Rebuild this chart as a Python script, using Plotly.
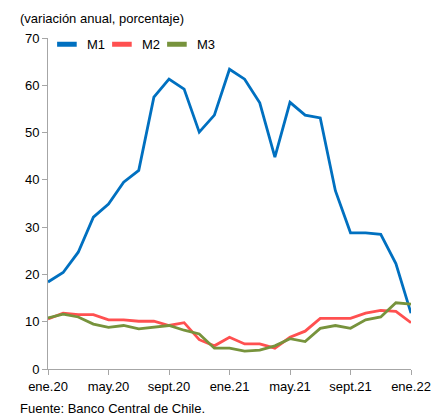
import plotly.graph_objects as go

months = ["ene.20", "feb.20", "mar.20", "abr.20", "may.20", "jun.20", "jul.20", "ago.20",
          "sept.20", "oct.20", "nov.20", "dic.20", "ene.21", "feb.21", "mar.21", "abr.21",
          "may.21", "jun.21", "jul.21", "ago.21", "sept.21", "oct.21", "nov.21", "dic.21",
          "ene.22"]

m1 = [18.4, 20.4, 24.7, 32.1, 34.9, 39.5, 42.0, 57.5, 61.3, 59.2, 50.1, 53.7, 63.4,
      61.3, 56.3, 44.8, 56.4, 53.7, 53.1, 37.7, 28.8, 28.8, 28.5, 22.3, 11.8]
m2 = [10.6, 11.8, 11.5, 11.5, 10.4, 10.4, 10.1, 10.1, 9.2, 9.8, 6.2, 4.9, 6.7,
      5.3, 5.3, 4.4, 6.7, 8.0, 10.7, 10.7, 10.7, 11.8, 12.4, 12.2, 9.8]
m3 = [10.8, 11.6, 11.0, 9.5, 8.8, 9.2, 8.5, 8.9, 9.2, 8.2, 7.4, 4.4, 4.4,
      3.8, 4.0, 4.9, 6.4, 5.8, 8.6, 9.2, 8.6, 10.4, 11.0, 14.0, 13.7]

tick_labels = ["ene.20", "may.20", "sept.20", "ene.21", "may.21", "sept.21", "ene.22"]
yticks = [0, 10, 20, 30, 40, 50, 60, 70]

names = ["M1", "M2", "M3"]
series = [m1, m2, m3]
colors = ["#0070C0", "#FF5050", "#77933C"]

FONT = "Liberation Sans, Arial, sans-serif"

fig = go.Figure()
for name, vals, col in zip(names, series, colors):
    fig.add_trace(go.Scatter(x=months, y=vals, mode="lines", name=name,
                             line=dict(color=col, width=2.8), showlegend=False))
# legend entries (rectangular swatches)
for name, col in zip(names, colors):
    fig.add_trace(go.Scatter(x=[None], y=[None], mode="markers", name=name,
                             marker=dict(symbol="line-ew", size=14,
                                         line=dict(color=col, width=5)),
                             showlegend=True))
# invisible spacer entry so the last legend label is not clipped
fig.add_trace(go.Scatter(x=[None], y=[None], mode="markers", name=" ",
                         marker=dict(opacity=0, color="white"), showlegend=True,
                         hoverinfo="skip"))

fig.update_layout(
    width=438, height=407,
    margin=dict(l=40, r=35, t=30, b=46, autoexpand=False),
    paper_bgcolor="white", plot_bgcolor="white",
    font=dict(family=FONT, size=13, color="#000000"),
    showlegend=True,
    legend=dict(orientation="h", x=-0.003, xanchor="left", y=0.981, yanchor="middle",
                bgcolor="rgba(0,0,0,0)", font=dict(size=13), tracegroupgap=0,
                itemwidth=30, entrywidth=10),
    xaxis=dict(type="category", range=[0, 24], tickvals=tick_labels, ticktext=tick_labels,
               showgrid=False, zeroline=False, showline=True, linecolor="#A6A6A6",
               linewidth=1, ticks="outside", ticklen=5, tickcolor="#A6A6A6",
               tickfont=dict(size=13)),
    yaxis=dict(range=[0, 70], tickvals=yticks, showgrid=False, zeroline=False,
               showline=True, linecolor="#A6A6A6", linewidth=1, ticks="outside",
               ticklen=5, tickcolor="#A6A6A6", tickfont=dict(size=13)),
    annotations=[
        dict(text="<b>Gráfico II.12 Agregados monetarios nominales (*)</b>",
             xref="paper", yref="paper", x=-0.094, y=1, xanchor="left",
             yanchor="bottom", yshift=32, showarrow=False, font=dict(size=14)),
        dict(text="(variación anual, porcentaje)", xref="paper", yref="paper",
             x=-0.0826, y=1, xanchor="left", yanchor="middle", yshift=20,
             showarrow=False, font=dict(size=13)),
        dict(text="Fuente: Banco Central de Chile.", xref="paper", yref="paper",
             x=-0.0826, y=0, xanchor="left", yanchor="middle", yshift=-39,
             showarrow=False, font=dict(size=13)),
    ],
)

fig.write_html("out.html")
